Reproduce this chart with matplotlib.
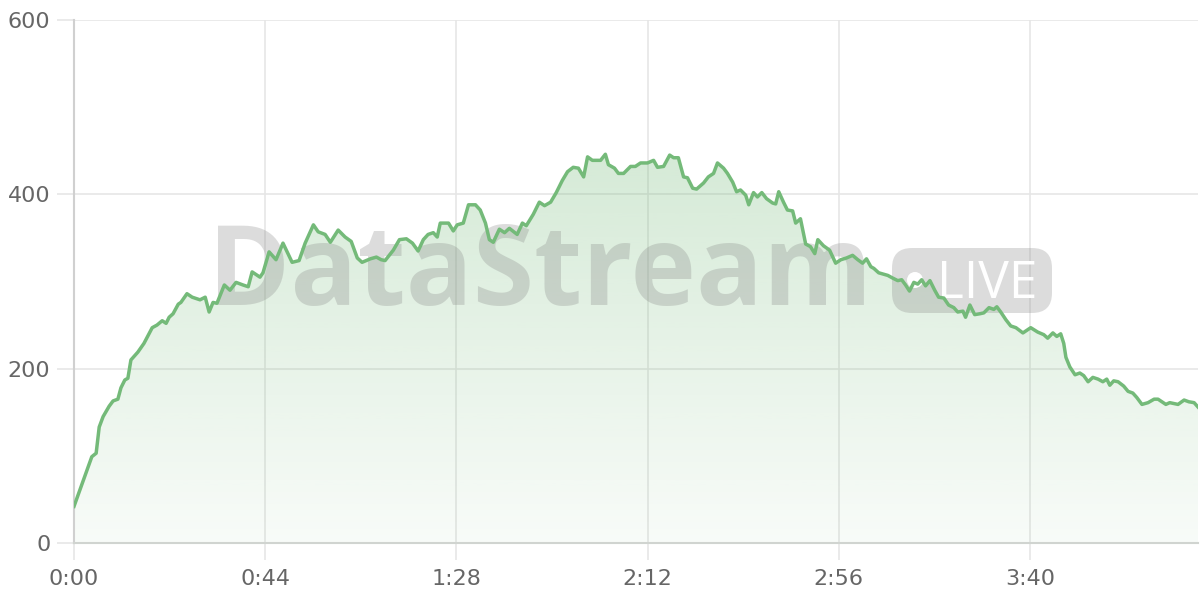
import matplotlib
matplotlib.use("Agg")
import matplotlib.pyplot as plt
import numpy as np
from matplotlib.patches import FancyBboxPatch, Circle
from matplotlib.ticker import FuncFormatter

# elapsed seconds and viewer count
times = [0, 4.1, 5.1, 5.8, 6.7, 8.1, 9.0, 10.1, 10.8, 11.7, 12.4, 13.1, 14.7, 16.1,
         18.0, 19.1, 20.3, 21.2, 21.9, 22.8, 24.0, 24.6, 26.0, 27.2, 29.0, 30.2,
         31.1, 32.0, 32.9, 34.6, 35.9, 37.3, 38.9, 40.1, 41.0, 42.8, 43.5, 44.9,
         46.5, 48.1, 50.2, 51.8, 53.2, 55.1, 56.2, 57.8, 59.0, 60.8, 62.4, 63.8,
         65.2, 66.3, 68.2, 69.6, 70.7, 71.6, 73.5, 74.9, 76.5, 77.9, 79.2, 80.4,
         81.5, 82.7, 83.6, 84.3, 86.2, 87.3, 88.2, 89.6, 90.8, 92.4, 93.5, 94.7,
         95.6, 96.5, 97.9, 99.1, 100.2, 102.0, 103.2, 104.1, 105.7, 107.1, 108.3,
         109.7, 111.0, 112.4, 113.6, 114.9, 116.1, 117.3, 118.2, 119.3, 121.2,
         122.3, 123.0, 124.4, 125.3, 126.5, 128.1, 129.2, 130.4, 132.0, 133.4,
         134.3, 135.7, 137.1, 138.0, 139.1, 140.3, 141.2, 142.4, 143.3, 144.9,
         146.0, 147.2, 148.1, 149.5, 150.4, 151.6, 152.5, 153.4, 154.6, 155.3,
         156.4, 157.3, 158.3, 159.4, 160.8, 161.5, 162.2, 163.3, 164.2, 165.4,
         166.1, 167.2, 168.4, 169.5, 170.5, 171.2, 172.5, 173.9, 175.3, 176.5,
         177.8, 179.2, 180.4, 181.5, 182.4, 183.4, 184.1, 185.2, 187.3, 188.4,
         189.6, 190.5, 191.4, 192.3, 193.3, 194.2, 195.1, 196.0, 197.0, 198.1,
         199.0, 200.2, 201.3, 202.5, 203.4, 204.6, 205.2, 206.2, 207.3, 208.5,
         209.4, 210.6, 211.7, 212.4, 213.3, 214.5, 215.6, 216.8, 218.4, 220.2,
         221.8, 223.2, 224.1, 225.3, 226.2, 227.1, 227.8, 228.3, 229.2, 230.4,
         231.5, 232.4, 233.4, 234.5, 235.7, 236.8, 237.7, 238.4, 239.3, 240.3,
         241.6, 242.6, 243.7, 244.6, 245.8, 247.2, 248.6, 249.5, 251.3, 252.2,
         254.1, 255.5, 256.6, 257.8, 258.7]
viewers = [42, 99, 103, 133, 145, 157, 163, 165, 178, 187, 189, 210, 219, 229,
           247, 250, 255, 252, 259, 263, 274, 276, 286, 282, 279, 282,
           265, 276, 275, 296, 290, 299, 296, 294, 311, 305, 310, 334,
           325, 344, 322, 324, 344, 365, 357, 354, 345, 359, 351, 346,
           327, 322, 326, 328, 325, 324, 336, 348, 349, 344, 335, 348,
           354, 356, 351, 367, 367, 358, 365, 367, 388, 388, 382, 367,
           348, 345, 360, 356, 361, 354, 367, 364, 377, 391, 387,
           391, 402, 416, 426, 431, 430, 420, 443, 439, 439,
           446, 434, 430, 424, 424, 432, 432, 436, 436, 439,
           431, 432, 445, 442, 442, 420, 419, 407, 406, 413,
           420, 424, 436, 430, 424, 414, 403, 405, 399, 388,
           402, 397, 402, 395, 390, 389, 403, 391, 382, 381,
           367, 372, 343, 340, 332, 348, 341, 336, 321, 325,
           327, 330, 325, 321, 326, 317, 315, 310, 307, 304,
           301, 302, 296, 289, 299, 297, 302, 295, 301, 290,
           282, 281, 273, 270, 265, 266, 259, 273, 262, 263,
           264, 270, 268, 271, 265, 256, 249, 247, 241, 247,
           242, 239, 235, 241, 237, 240, 229, 213, 202, 193,
           195, 192, 185, 190, 188, 185, 188, 181, 186, 185,
           180, 174, 172, 167, 159, 161, 165, 165, 159, 161,
           159, 164, 162, 161, 156]

x_ticks = [0, 44, 88, 132, 176, 220]
y_ticks = [0, 200, 400, 600]

line_color = "#74ba79"
grid_color = "#e6e6e6"
axis_color = "#d0d4d0"
label_color = "#666666"

plt.rcParams['font.family'] = ['DejaVu Sans']

fig = plt.figure(figsize=(12, 6), dpi=100)
ax = fig.add_axes([74 / 1200, 1 - 543 / 600, 1124 / 1200, 523 / 600])

t = np.array(times)
v = np.array(viewers)

# gradient fill under the line
grad = np.linspace(0.05, 0.30, 256).reshape(-1, 1)
rgba = np.zeros((256, 1, 4))
rgba[..., 0] = 0x74 / 255
rgba[..., 1] = 0xba / 255
rgba[..., 2] = 0x79 / 255
rgba[..., 3] = grad
img = ax.imshow(rgba, extent=[t[0], t[-1], 0, v.max()], origin="lower",
                aspect="auto", zorder=1)
poly = ax.fill_between(t, v, 0, color="none")
clip = poly.get_paths()[0]
img.set_clip_path(clip, transform=ax.transData)

ax.plot(t, v, color=line_color, lw=2.5, zorder=3, solid_joinstyle="round")

# watermark, drawn in inches so the pill keeps its shape
wm = fig.dpi_scale_trans
ax.text(5.40, 2.95, "DataStream", transform=wm, fontsize=80, fontweight="bold",
        family=["Open Sans", "DejaVu Sans"], color="#808080", alpha=0.27,
        ha="center", va="baseline", zorder=2, clip_on=False)
pill = FancyBboxPatch((8.92, 2.87), 1.60, 0.65,
                      boxstyle="round,pad=0,rounding_size=0.2",
                      transform=wm, facecolor="#808080", edgecolor="none",
                      alpha=0.27, zorder=2, clip_on=False)
ax.add_patch(pill)
ax.add_patch(Circle((9.15, 3.20), 0.08, transform=wm, facecolor="white",
                    edgecolor="none", zorder=2, clip_on=False))
ax.text(9.87, 3.02, "LIVE", transform=wm, fontsize=37,
        family=["Open Sans", "DejaVu Sans"], color="white",
        ha="center", va="baseline", zorder=2, clip_on=False)

ax.set_xlim(t[0], t[-1])
ax.set_ylim(0, 600)
ax.set_xticks(x_ticks)
ax.set_yticks(y_ticks)
ax.xaxis.set_major_formatter(FuncFormatter(lambda s, p: "%d:%02d" % (s // 60, s % 60)))
ax.grid(True, color=grid_color, lw=1.2, zorder=0)
ax.set_axisbelow(True)

for side in ["top", "right"]:
    ax.spines[side].set_visible(False)
ax.spines["left"].set_color("#d0d0d0")
ax.spines["left"].set_linewidth(1.5)
ax.spines["bottom"].set_color(axis_color)
ax.spines["bottom"].set_linewidth(1.5)

ax.tick_params(axis="x", length=12, width=1.2, color=grid_color, pad=7,
               labelsize=16, labelcolor=label_color)
ax.tick_params(axis="y", length=12, width=1.2, color=grid_color, pad=5,
               labelsize=16, labelcolor=label_color)

fig.savefig("out.png", dpi=100)
